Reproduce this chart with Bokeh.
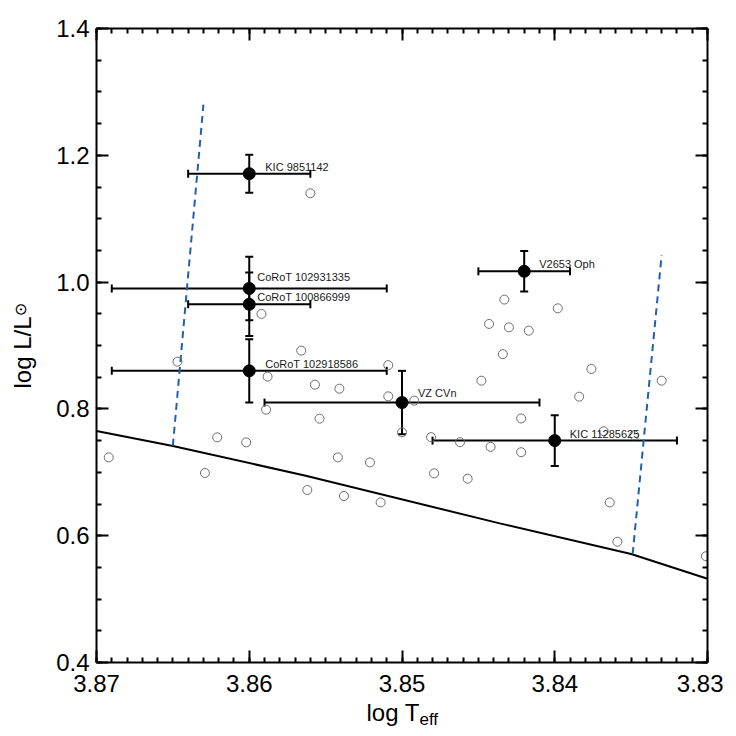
import numpy as np
from bokeh.plotting import figure
from bokeh.models import (Range1d, FixedTicker, LinearAxis, ColumnDataSource,
                          Whisker, TeeHead, Label, CustomJSTickFormatter)
from bokeh.core.properties import value
from bokeh.embed import file_html
from bokeh.resources import INLINE

# ---------------- data ----------------
star_names = ["KIC 9851142", "CoRoT 102931335", "CoRoT 100866999",
              "CoRoT 102918586", "VZ CVn", "V2653 Oph", "KIC 11285625"]
star_logteff = [3.860, 3.860, 3.860, 3.860, 3.850, 3.842, 3.840]
star_logteff_err = [0.004, 0.009, 0.004, 0.009, 0.009, 0.003, 0.008]
star_logl = [1.171, 0.990, 0.965, 0.860, 0.810, 1.017, 0.750]
star_logl_err = [0.030, 0.050, 0.050, 0.050, 0.050, 0.032, 0.040]

field_logteff = [3.8692, 3.8647, 3.8621, 3.8629, 3.8602, 3.8589, 3.8562, 3.8560,
                 3.8592, 3.8566, 3.8509, 3.8588, 3.8557, 3.8541, 3.8554, 3.8509,
                 3.8492, 3.8500, 3.8542, 3.8521, 3.8538, 3.8514, 3.8481, 3.8462,
                 3.8442, 3.8479, 3.8457, 3.8448, 3.8433, 3.8398, 3.8443, 3.8430,
                 3.8417, 3.8434, 3.8376, 3.8330, 3.8384, 3.8422, 3.8422, 3.8368,
                 3.8348, 3.8364, 3.8359, 3.8301]
field_logl = [0.7235, 0.8745, 0.7551, 0.6989, 0.7472, 0.7988, 0.6721, 1.1401,
              0.9498, 0.8919, 0.8690, 0.8509, 0.8382, 0.8319, 0.7846, 0.8198,
              0.8130, 0.7630, 0.7235, 0.7156, 0.6626, 0.6525, 0.7554, 0.7475,
              0.7401, 0.6983, 0.6899, 0.8445, 0.9724, 0.9586, 0.9340, 0.9286,
              0.9234, 0.8863, 0.8630, 0.8445, 0.8193, 0.7850, 0.7317, 0.7648,
              0.7585, 0.6525, 0.5905, 0.5676]

zams_logteff = [3.8700, 3.8650, 3.8563, 3.8436, 3.8350, 3.8300]
zams_logl = [0.7652, 0.7415, 0.6946, 0.6194, 0.5711, 0.5321]

blue_edge_logteff = [3.8650, 3.8630]
blue_edge_logl = [0.742, 1.280]
red_edge_logteff = [3.8349, 3.8330]
red_edge_logl = [0.571, 1.043]

x_ticks = [3.87, 3.86, 3.85, 3.84, 3.83]
x_tick_labels = ["3.87", "3.86", "3.85", "3.84", "3.83"]
y_ticks = [0.4, 0.6, 0.8, 1.0, 1.2, 1.4]
y_tick_labels = ["0.4", "0.6", "0.8", "1.0", "1.2", "1.4"]

# --------------- styling ---------------
FONT = "Liberation Sans"
label_dx = [16, 8, 8, 16, 16, 15, 15]
label_dy = [-7, -11, -7, -7, -10, -7, -7]

p = figure(frame_width=611, frame_height=634,
           x_range=Range1d(3.87, 3.83), y_range=Range1d(0.4, 1.4),
           output_backend="svg", toolbar_location=None,
           min_border_left=96, min_border_right=16,
           min_border_top=28, min_border_bottom=66)
p.xgrid.visible = False
p.ygrid.visible = False
p.outline_line_color = None
p.background_fill_color = "white"
p.border_fill_color = "white"

x_minor = list(np.round(np.arange(3.83, 3.8701, 0.001), 4))
y_minor = list(np.round(np.arange(0.4, 1.4001, 0.05), 3))

p.add_layout(LinearAxis(), "above")
p.add_layout(LinearAxis(), "right")

for ax in p.xaxis:
    ax.ticker = FixedTicker(ticks=x_ticks, minor_ticks=x_minor)
for ax in p.yaxis:
    ax.ticker = FixedTicker(ticks=y_ticks, minor_ticks=y_minor)

for ax in list(p.xaxis) + list(p.yaxis):
    ax.axis_line_width = 2
    ax.axis_line_color = "black"
    ax.major_tick_in = 12
    ax.major_tick_out = 0
    ax.minor_tick_in = 5
    ax.minor_tick_out = 0
    ax.major_tick_line_width = 2
    ax.minor_tick_line_width = 2
    ax.major_tick_line_color = "black"
    ax.minor_tick_line_color = "black"
    ax.major_label_text_font = FONT
    ax.major_label_text_font_size = "24px"
    ax.major_label_text_color = "black"

p.below[0].major_label_overrides = {t: s for t, s in zip(x_ticks, x_tick_labels)}
p.below[0].major_label_standoff = 12
p.left[0].major_label_overrides = {t: s for t, s in zip(y_ticks, y_tick_labels)}
p.left[0].major_label_standoff = 7
for ax in (p.above[0], p.right[0]):
    ax.formatter = CustomJSTickFormatter(code="return ''")
    ax.major_label_text_font_size = "1px"
    ax.major_label_standoff = 0

# field stars
p.scatter(field_logteff, field_logl, marker="circle", size=9,
          fill_color=None, line_color="#6e6e6e", line_width=1)

# ZAMS and instability strip edges
p.line(zams_logteff, zams_logl, line_color="black", line_width=2)
p.line(blue_edge_logteff, blue_edge_logl, line_color="#2160ad",
       line_width=2, line_dash="7 5")
p.line(red_edge_logteff, red_edge_logl, line_color="#2160ad",
       line_width=2, line_dash="7 5")

# stars with error bars
tx = np.array(star_logteff)
ty = np.array(star_logl)
ex = np.array(star_logteff_err)
ey = np.array(star_logl_err)
src = ColumnDataSource(dict(
    x=tx, y=ty, xl=tx - ex, xh=tx + ex, yl=ty - ey, yh=ty + ey,
    name=star_names, dx=label_dx, dy=label_dy))

p.add_layout(Whisker(source=src, base="y", lower="xl", upper="xh",
                     dimension="width", line_width=2, line_color="black",
                     lower_head=TeeHead(size=8, line_width=2, line_color="black"),
                     upper_head=TeeHead(size=8, line_width=2, line_color="black")))
p.add_layout(Whisker(source=src, base="x", lower="yl", upper="yh",
                     dimension="height", line_width=2, line_color="black",
                     lower_head=TeeHead(size=8, line_width=2, line_color="black"),
                     upper_head=TeeHead(size=8, line_width=2, line_color="black")))
p.scatter("x", "y", source=src, marker="circle", size=12,
          fill_color="black", line_color="black")
p.text("x", "y", text="name", source=src, x_offset="dx", y_offset="dy",
       text_font=value(FONT), text_font_size="11px",
       text_baseline="middle", text_align="left", text_color="#1a1a1a")

# axis titles (with subscripts), placed in the side panels so they are not clipped
p.add_layout(Label(x=270, y=9, x_units="screen", y_units="screen",
                   text="log T", text_font=FONT, text_font_size="24px",
                   text_align="left", text_baseline="alphabetic",
                   text_color="black"), "below")
p.add_layout(Label(x=323, y=21, x_units="screen", y_units="screen",
                   text="eff", text_font=FONT, text_font_size="17px",
                   text_align="left", text_baseline="alphabetic",
                   text_color="black"), "below")
p.add_layout(Label(x=-4, y=274, x_units="screen", y_units="screen",
                   text="log L/L", text_font=FONT, text_font_size="24px",
                   angle=np.pi / 2, text_align="left",
                   text_baseline="alphabetic", text_color="black"), "left")
p.add_layout(Label(x=13, y=353, x_units="screen", y_units="screen",
                   text="\u2299", text_font="DejaVu Sans", text_font_size="16px",
                   angle=np.pi / 2, text_align="center",
                   text_baseline="middle", text_color="black"), "left")

open("out.html", "w").write(file_html(p, INLINE))
